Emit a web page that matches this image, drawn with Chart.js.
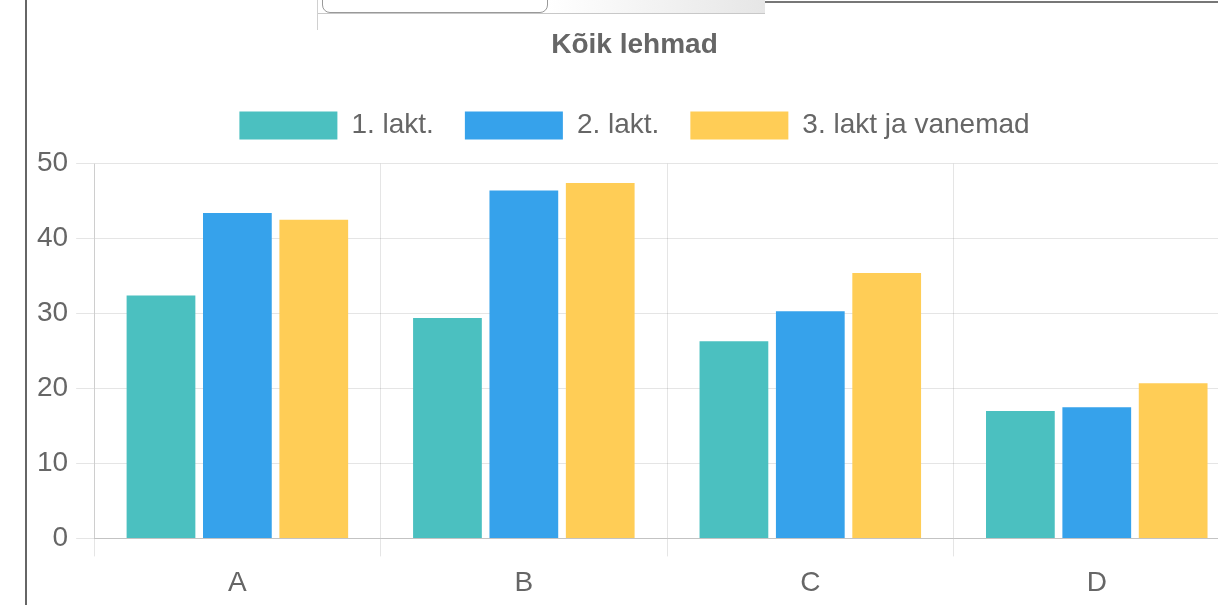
<!DOCTYPE html>
<html>
<head>
<meta charset="utf-8">
<title>Kõik lehmad</title>
<script src="https://cdn.jsdelivr.net/npm/chart.js@4/dist/chart.umd.min.js"></script>
<style>
    html, body { margin: 0; padding: 0; background: #fff; overflow: hidden; }
    body { width: 1218px; height: 605px; position: relative; }
    .side-line { position: absolute; left: 25px; top: 0; width: 2px; height: 605px; background: #666; }
    .top-line { position: absolute; left: 765px; top: 1px; width: 453px; height: 2px; background: #777; }
    .tab-strip { position: absolute; left: 318px; top: 0; width: 447px; height: 13px;
                 background: linear-gradient(to right, #fff 0, #fff 230px, #e6e6e6 447px);
                 border-bottom: 1px solid #c8c8c8; }
    .tab-box { position: absolute; left: 322px; top: -2px; width: 224px; height: 13px; background: #fff;
               border: 1px solid #999; border-radius: 0 0 8px 8px; }
    .tab-edge { position: absolute; left: 317px; top: 0; width: 1px; height: 30px; background: #d0d0d0; }
    .chart-wrap { position: absolute; left: 28px; top: 0; width: 1212px; height: 610px; }
</style>
</head>
<body>
<div class="side-line"></div>
<div class="top-line"></div>
<div class="tab-strip"></div>
<div class="tab-box"></div>
<div class="tab-edge"></div>
<div class="chart-wrap"><canvas id="lehmadChart"></canvas></div>

<script>
// -------- Data --------
const categories = ["A", "B", "C", "D"];
const lakt1 = [32.4, 29.4, 26.3, 17.0];
const lakt2 = [43.4, 46.4, 30.3, 17.5];
const lakt3 = [42.5, 47.4, 35.4, 20.7];
const seriesNames = ["1. lakt.", "2. lakt.", "3. lakt ja vanemad"];
const yTicks = [0, 10, 20, 30, 40, 50];

Chart.defaults.font.family = "'Liberation Sans', Arial, Helvetica, sans-serif";
Chart.defaults.color = "#666";

// extra room under the legend, like the old v2 layout
const legendSpace = {
    id: "legendSpace",
    beforeInit(chart) {
        const fit = chart.legend.fit;
        chart.legend.fit = function() {
            fit.bind(chart.legend)();
            this.height += 14;
        };
    }
};

const ctx = document.getElementById("lehmadChart").getContext("2d");
new Chart(ctx, {
    type: "bar",
    data: {
        labels: categories,
        datasets: [
            { label: seriesNames[0], data: lakt1, backgroundColor: "rgb(75, 192, 192)" },
            { label: seriesNames[1], data: lakt2, backgroundColor: "rgb(54, 162, 235)" },
            { label: seriesNames[2], data: lakt3, backgroundColor: "rgb(255, 205, 86)" }
        ]
    },
    options: {
        responsive: true,
        maintainAspectRatio: false,
        animation: false,
        categoryPercentage: 0.8,
        barPercentage: 0.9,
        layout: { padding: { left: 1, top: 0, right: 0, bottom: 0 } },
        plugins: {
            title: {
                display: true,
                text: "Kõik lehmad",
                color: "#666",
                font: { size: 28, weight: "bold" },
                padding: { top: 28, bottom: 19 }
            },
            legend: {
                labels: {
                    boxWidth: 98,
                    boxHeight: 28,
                    padding: 31,
                    font: { size: 28 },
                    color: "#666"
                }
            },
            tooltip: { enabled: false }
        },
        scales: {
            x: {
                grid: { color: "rgba(0,0,0,0.1)", tickLength: 18, offset: true },
                border: { color: "rgba(0,0,0,0.15)" },
                ticks: { font: { size: 28 }, padding: 10, color: "#666" }
            },
            y: {
                min: yTicks[0],
                max: yTicks[yTicks.length - 1],
                grid: { color: "rgba(0,0,0,0.1)", tickLength: 18 },
                border: { color: "rgba(0,0,0,0.1)" },
                ticks: { stepSize: yTicks[1] - yTicks[0], font: { size: 28 }, padding: 8, color: "#666" }
            }
        }
    },
    plugins: [legendSpace]
});
</script>
</body>
</html>
